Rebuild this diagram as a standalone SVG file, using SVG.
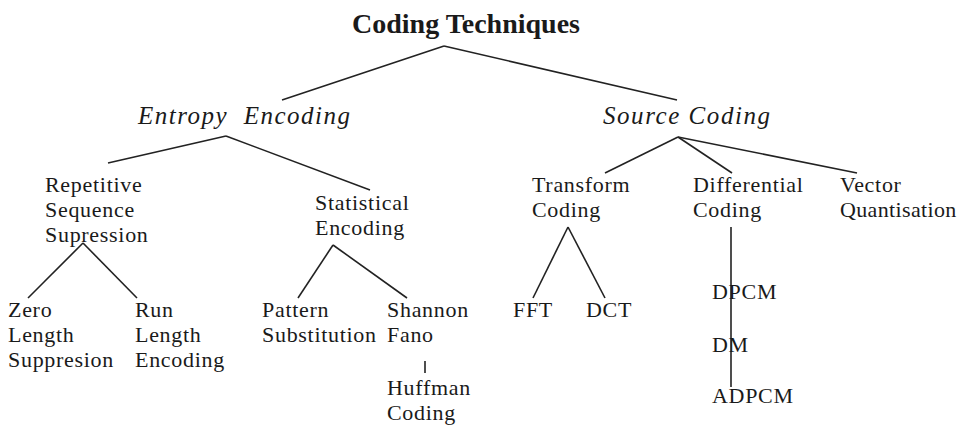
<svg xmlns="http://www.w3.org/2000/svg" width="960" height="428" viewBox="0 0 960 428">
<style>
text{font-family:"Liberation Serif","Times New Roman",serif;fill:#1a1a1a}
.t{font-size:22px;letter-spacing:0.7px}
.h{font-size:28px;font-weight:bold}
.i{font-size:25px;font-style:italic;white-space:pre}
.c line{stroke:#222;stroke-width:1.6;fill:none}
</style>
<rect width="960" height="428" fill="#fff"/>
<g class="c" id="connectors">
<line x1="444" y1="46" x2="282" y2="100"/>
<line x1="444" y1="46" x2="677" y2="100"/>
<line x1="226" y1="136" x2="108" y2="163"/>
<line x1="226" y1="136" x2="370" y2="190"/>
<line x1="678" y1="137" x2="605" y2="173"/>
<line x1="678" y1="137" x2="732" y2="173"/>
<line x1="678" y1="137" x2="857" y2="173"/>
<line x1="83" y1="243" x2="28" y2="298"/>
<line x1="83" y1="243" x2="137" y2="298"/>
<line x1="333" y1="245" x2="298" y2="298"/>
<line x1="333" y1="245" x2="407" y2="298"/>
<line x1="425" y1="361" x2="425" y2="373"/>
<line x1="568" y1="227" x2="533" y2="298"/>
<line x1="568" y1="227" x2="605" y2="298"/>
<line x1="731" y1="227" x2="731" y2="387"/>
</g>
<g id="root"><text class="h" x="466" y="33" text-anchor="middle">Coding Techniques</text></g>
<g id="entropy"><text class="i" x="138" y="124" textLength="212" lengthAdjust="spacing">Entropy  Encoding</text></g>
<g id="source"><text class="i" x="603" y="124" textLength="167" lengthAdjust="spacing">Source Coding</text></g>
<g id="repetitive"><text class="t" x="45" y="192">Repetitive</text><text class="t" x="45" y="217">Sequence</text><text class="t" x="45" y="242">Supression</text></g>
<g id="statistical"><text class="t" x="315" y="210">Statistical</text><text class="t" x="315" y="235">Encoding</text></g>
<g id="zero"><text class="t" x="8" y="317">Zero</text><text class="t" x="8" y="342">Length</text><text class="t" x="8" y="367">Suppresion</text></g>
<g id="run"><text class="t" x="135" y="317">Run</text><text class="t" x="135" y="342">Length</text><text class="t" x="135" y="367">Encoding</text></g>
<g id="pattern"><text class="t" x="262" y="317">Pattern</text><text class="t" x="262" y="342">Substitution</text></g>
<g id="shannon"><text class="t" x="387" y="317">Shannon</text><text class="t" x="387" y="342">Fano</text></g>
<g id="huffman"><text class="t" x="387" y="395">Huffman</text><text class="t" x="387" y="420">Coding</text></g>
<g id="transform"><text class="t" x="532" y="192">Transform</text><text class="t" x="532" y="217">Coding</text></g>
<g id="differential"><text class="t" x="693" y="192">Differential</text><text class="t" x="693" y="217">Coding</text></g>
<g id="vector"><text class="t" x="840" y="192">Vector</text><text class="t" x="840" y="217" textLength="117" lengthAdjust="spacing">Quantisation</text></g>
<g id="fft"><text class="t" x="513" y="317">FFT</text></g>
<g id="dct"><text class="t" x="586" y="317">DCT</text></g>
<g id="dpcm"><text class="t" x="712" y="299">DPCM</text></g>
<g id="dm"><text class="t" x="712" y="352">DM</text></g>
<g id="adpcm"><text class="t" x="712" y="403">ADPCM</text></g>
</svg>
